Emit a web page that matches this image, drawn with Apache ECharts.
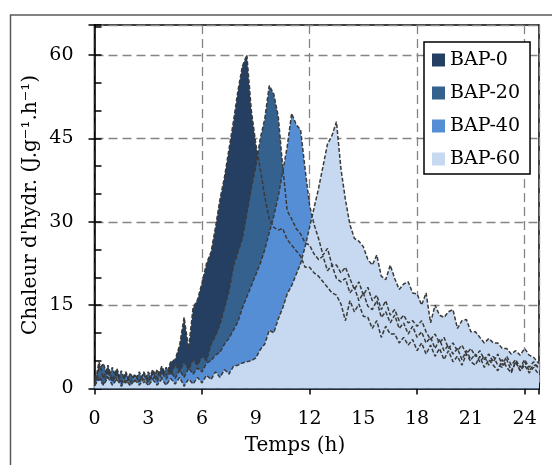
<!DOCTYPE html>
<html><head><meta charset="utf-8">
<script src="https://cdn.jsdelivr.net/npm/echarts@6/dist/echarts.min.js"></script>
<style>html,body{margin:0;padding:0;background:#fff}#c{width:552px;height:465px}</style>
</head><body><div id="c"></div>
<script>
// Time axis (h)
const hours = [0,0.25,0.5,0.75,1,1.25,1.5,1.75,2,2.25,2.5,2.75,3,3.25,3.5,3.75,4,4.25,4.5,4.75,
5,5.25,5.5,5.75,6,6.25,6.5,6.75,7,7.25,7.5,7.75,8,8.25,8.5,8.75,9,9.25,9.5,9.75,
10,10.25,10.5,10.75,11,11.25,11.5,11.75,12,12.25,12.5,12.75,13,13.25,13.5,13.75,14,14.25,14.5,14.75,
15,15.25,15.5,15.75,16,16.25,16.5,16.75,17,17.25,17.5,17.75,18,18.25,18.5,18.75,19,19.25,19.5,19.75,
20,20.25,20.5,20.75,21,21.25,21.5,21.75,22,22.25,22.5,22.75,23,23.25,23.5,23.75,24,24.25,24.5,24.8];

// Chaleur d'hydratation (J.g-1.h-1)
const bap0 = [0.5,4.8,1.8,4.2,1.5,3.6,1.2,3.0,1.0,2.6,1.2,3.0,1.4,3.4,1.8,4.0,2.4,4.8,5.2,7.8,
12.8,7.2,14.5,16,19,22.5,24.5,29,34,38,43,48,53.5,58,60,50,44,39.5,34.5,30.5,
29,28.5,28.8,26.8,25.8,24.8,23.8,21.8,21.8,20.8,20.2,19.2,18.2,17.2,16.8,15.2,12.2,15.8,13.8,15.2,
13,12.8,10.8,12.2,9.2,11.2,9.8,9.8,8.2,9.2,7.8,8.8,6.8,8.2,6.2,7.8,5.8,7.2,5.2,6.8,
4.8,5.8,4.2,6.2,4.8,4.2,5.8,3.8,5.2,4.2,3.2,5.2,3.8,2.8,4.8,3.2,4.2,2.8,3.8,2.5];

const bap20 = [0.8,3.5,4.5,1.8,3.8,1.5,3.2,0.8,2.8,1.2,3.0,1.0,3.0,1.5,3.4,1.8,3.8,2.4,4.4,3.0,
4.8,3.4,5.2,4.2,5.8,5,8,9.5,11.5,14.5,17.5,22,24.5,27,31.5,36,40,45,48.5,54.5,
53,49,40,32,30.5,28.8,27.8,26.2,25.8,24.2,23.2,23.8,21.2,22.2,19.8,19.2,19.8,17.2,18.2,15.8,
17.2,14.8,14.2,15.8,12.8,13.8,11.8,13.2,10.8,11.8,9.8,11.2,9.2,10.2,8.2,9.2,7.2,8.8,6.8,7.8,
6.2,7.2,5.2,6.8,5.2,6.2,4.8,5.8,4.2,5.8,4.2,3.8,5.2,3.2,4.8,3.2,4.8,3.2,4.2,4];

const bap40 = [0.5,2.2,0.8,2.8,1.2,2.5,0.8,2.3,1.0,2.3,1.2,2.5,1.0,2.7,1.2,2.9,1.7,3.1,1.8,3.3,
2.0,3.7,2.6,3.7,3.0,4.6,5,6,6.5,8,9,10.5,12,14.5,16.5,18.5,20.5,22.5,25,28,
31,34.5,39,43.5,49.5,47.5,46.5,39.5,33,29.5,27,24,25.2,22.2,22.2,20.8,21.8,19.8,17.8,19.2,
16.8,18.2,15.8,16.8,14.2,15.8,13.2,14.2,12.2,13.2,11.8,12.2,11.2,12.2,10.2,8.8,9.8,8.2,9.2,7.2,
8.2,6.8,7.8,6.2,7.2,5.8,6.8,5.2,6.2,4.8,6.2,4.2,5.8,4.2,5.2,3.8,5.2,3.8,4.8,3.5];

const bap60 = [0.5,1.7,0.6,2.0,0.6,1.7,0.4,1.5,0.5,1.6,0.6,1.7,0.5,1.6,0.6,1.7,0.6,1.8,0.8,2.0,
0.4,1.7,0.8,2.0,1.0,2.4,1.6,3.0,2.0,3.4,2.6,4.0,4.2,4.6,4.8,5,5.5,7,8,10.5,
10,12.5,14.5,17,18.5,20.5,22.5,25.5,29,32.5,36,40,44,45.5,48,39.5,34,29.5,27,26.5,
25.5,23.2,22.2,24.0,20.2,19.6,22.2,19.8,17.8,18.8,19.2,17.2,17,15,17.2,11.8,15,13.2,12.8,13.8,
14.2,10.8,12.2,12.4,10.2,10.2,9.2,8.2,9.0,8.2,8.2,7.2,7.2,6.2,6.8,6.0,7.2,6.0,5.6,4.5];

const seriesNames = ['BAP-0','BAP-20','BAP-40','BAP-60'];
const seriesValues = [bap0, bap20, bap40, bap60];
const fillColors = ['#243F61','#35618F','#558ED5','#C6D9F0'];
const xTickStep = 3, yTickStep = 15;

const FONT = 'DejaVu Serif';
const chart = echarts.init(document.getElementById('c'), null, {renderer: 'canvas'});

const areaSeries = seriesNames.map((n, i) => ({
  name: n, type: 'line', xAxisIndex: 0, yAxisIndex: 0,
  data: hours.map((h, k) => [h, seriesValues[i][k]]),
  symbol: 'none', showSymbol: false, silent: true, z: 2,
  itemStyle: {color: fillColors[i]},
  lineStyle: {width: 0, color: fillColors[i]},
  areaStyle: {color: fillColors[i], opacity: 1}
}));
const lineSeries = seriesNames.map((n, i) => ({
  name: n + ' (courbe)', type: 'line', xAxisIndex: 0, yAxisIndex: 0,
  data: hours.map((h, k) => [h, seriesValues[i][k]]),
  symbol: 'none', showSymbol: false, silent: true, z: 3,
  lineStyle: {color: '#3a3a3a', width: 1.5, type: [4, 2]}
}));

const labelStyle = {fontFamily: FONT, fontSize: 19, color: '#000'};
const tickLine = {color: '#000', width: 1.5};
const gridDash = {color: '#858585', width: 1.3, type: [9, 5]};

chart.setOption({
  animation: false,
  backgroundColor: '#fff',
  grid: {left: 94.5, right: 13, top: 25, bottom: 76.5, show: true, borderColor: '#000', borderWidth: 1.5, backgroundColor: 'transparent', outerBoundsMode: 'none', containLabel: false},
  legend: {
    data: seriesNames.map((n, i) => ({name: n, icon: 'rect', itemStyle: {color: fillColors[i], borderWidth: 0}})),
    orient: 'vertical', left: 424, top: 42,
    itemWidth: 13, itemHeight: 13, itemGap: 13,
    padding: [8, 10, 5, 8],
    backgroundColor: '#fff', borderColor: '#000', borderWidth: 1.5,
    selectedMode: false,
    textStyle: {fontFamily: FONT, fontSize: 19, color: '#000', lineHeight: 20}
  },
  xAxis: [
    {type: 'value', min: 0, max: 24.8, interval: xTickStep, position: 'bottom',
     axisLine: {show: true, onZero: false, lineStyle: tickLine},
     axisTick: {show: false}, splitLine: {show: false},
     axisLabel: Object.assign({margin: 21, formatter: v => (Math.abs(v % xTickStep) < 1e-9 ? String(v) : '')}, labelStyle)},
    {type: 'value', min: 0, max: 24.8, interval: 6, position: 'bottom',
     axisLine: {show: false}, axisLabel: {show: false},
     axisTick: {show: true, length: 6, lineStyle: tickLine},
     splitLine: {show: true, lineStyle: gridDash}},
    {type: 'value', min: 0, max: 24.8, interval: 3, position: 'bottom',
     axisLine: {show: false}, axisLabel: {show: false},
     axisTick: {show: true, inside: true, length: 6, lineStyle: tickLine},
     splitLine: {show: false}}
  ],
  yAxis: [
    {type: 'value', min: 0, max: 65.4, interval: yTickStep, position: 'left',
     axisLine: {show: true, onZero: false, lineStyle: tickLine},
     axisTick: {show: true, length: 6, lineStyle: tickLine},
     splitLine: {show: true, lineStyle: gridDash},
     axisLabel: Object.assign({margin: 21, formatter: v => (Math.abs(v % yTickStep) < 1e-9 ? String(v) : '')}, labelStyle)},
    {type: 'value', min: 0, max: 65.4, interval: 5, position: 'left',
     axisLine: {show: false}, axisLabel: {show: false},
     axisTick: {show: true, inside: true, length: 7, lineStyle: tickLine},
     splitLine: {show: false}}
  ],
  graphic: [
    {type: 'polyline', silent: true, z: 10,
     shape: {points: [[10.5, 465], [10.5, 15], [552, 15]]},
     style: {stroke: '#595959', lineWidth: 1.5, fill: null}},
    {type: 'text', silent: true, x: 295, y: 446,
     style: {text: 'Temps (h)', fontFamily: FONT, fontSize: 20, fill: '#000', textAlign: 'center', textVerticalAlign: 'middle'}},
    {type: 'text', silent: true, x: 31, y: 205, rotation: Math.PI / 2,
     style: {text: "Chaleur d'hydr. (J.g\u207B\u00B9.h\u207B\u00B9)", fontFamily: FONT, fontSize: 20, fill: '#000', textAlign: 'center', textVerticalAlign: 'middle'}}
  ],
  series: areaSeries.concat(lineSeries)
});
</script></body></html>
